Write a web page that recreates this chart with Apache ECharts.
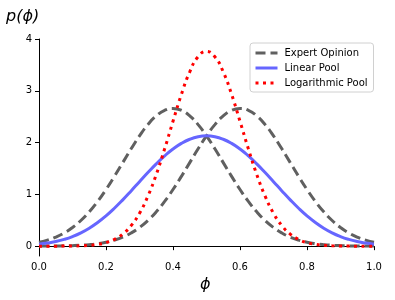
<!DOCTYPE html>
<html><head><meta charset="utf-8">
<script src="https://cdn.jsdelivr.net/npm/echarts@6/dist/echarts.min.js"></script>
<style>html,body{margin:0;padding:0;background:#fff}#c{width:395px;height:300px}</style>
</head><body><div id="c"></div>
<script>
var phi = [0,0.025,0.05,0.075,0.1,0.125,0.15,0.175,0.2,0.225,0.25,0.275,0.3,0.325,0.35,0.375,0.4,0.425,0.45,0.475,0.5,0.525,0.55,0.575,0.6,0.625,0.65,0.675,0.7,0.725,0.75,0.775,0.8,0.825,0.85,0.875,0.9,0.925,0.95,0.975,1.0];
var expertA = [0.0760,0.1169,0.1748,0.2543,0.3600,0.4954,0.6632,0.8634,1.0934,1.3467,1.6131,1.8794,2.1297,2.3471,2.5159,2.6229,2.6596,2.6229,2.5159,2.3471,2.1297,1.8794,1.6131,1.3467,1.0934,0.8634,0.6632,0.4954,0.3600,0.2543,0.1748,0.1169,0.0760,0.0481,0.0295,0.0177,0.0103,0.0058,0.0032,0.0017,0.0009];
var expertB = [0.0009,0.0017,0.0032,0.0058,0.0103,0.0177,0.0295,0.0481,0.0760,0.1169,0.1748,0.2543,0.3600,0.4954,0.6632,0.8634,1.0934,1.3467,1.6131,1.8794,2.1297,2.3471,2.5159,2.6229,2.6596,2.6229,2.5159,2.3471,2.1297,1.8794,1.6131,1.3467,1.0934,0.8634,0.6632,0.4954,0.3600,0.2543,0.1748,0.1169,0.0760];
var linearPool = [0.0385,0.0593,0.0890,0.1301,0.1852,0.2566,0.3464,0.4558,0.5847,0.7318,0.8940,1.0669,1.2449,1.4213,1.5896,1.7432,1.8765,1.9848,2.0645,2.1133,2.1297,2.1133,2.0645,1.9848,1.8765,1.7432,1.5896,1.4213,1.2449,1.0669,0.8940,0.7318,0.5847,0.4558,0.3464,0.2566,0.1852,0.1301,0.0890,0.0593,0.0385];
var logPool = [0.0001,0.0002,0.0005,0.0012,0.0031,0.0073,0.0163,0.0344,0.0689,0.1305,0.2338,0.3964,0.6357,0.9643,1.3836,1.8781,2.4115,2.9291,3.3655,3.6580,3.7610,3.6580,3.3655,2.9291,2.4115,1.8781,1.3836,0.9643,0.6357,0.3964,0.2338,0.1305,0.0689,0.0344,0.0163,0.0073,0.0031,0.0012,0.0005,0.0002,0.0001];
var seriesNames = ['Expert Opinion','Linear Pool','Logarithmic Pool'];
var yTicks = [0,1,2,3,4];
var xTicks = [0,0.2,0.4,0.6,0.8,1.0];

function pairs(ys){ return phi.map(function(x,i){return [x, ys[i]];}); }
var font = 'DejaVu Sans';
var chart = echarts.init(document.getElementById('c'), null, {renderer:'canvas'});
var gray = '#606060', blue = '#6666ff', red = '#ff0000';
chart.setOption({
  animation:false,
  grid:{left:39, right:21, top:39, bottom:44},
  xAxis:{type:'value', min:0, max:1, interval:0.2,
    axisLine:{lineStyle:{color:'#000', width:1}},
    axisTick:{show:true, length:4, lineStyle:{color:'#000'}},
    axisLabel:{color:'#000', fontFamily:font, fontSize:10, margin:6, formatter:function(v){return v.toFixed(1);}},
    splitLine:{show:false}},
  yAxis:{type:'value', min:-0.19, max:4,
    axisLine:{show:true, lineStyle:{color:'#000', width:1}},
    axisTick:{show:true, length:4, lineStyle:{color:'#000'}, customValues:yTicks},
    axisLabel:{color:'#000', fontFamily:font, fontSize:10, margin:7, customValues:yTicks, formatter:function(v){return String(Math.round(v));}},
    splitLine:{show:false}},
  legend:{data:[
      {name:seriesNames[0]},{name:seriesNames[1]},{name:seriesNames[2]}],
    orient:'vertical', left:250, top:43, itemWidth:22, itemHeight:10, itemGap:5,
    padding:[5,6,4,4], borderColor:'#d0d0d0', borderWidth:1, borderRadius:3,
    backgroundColor:'rgba(255,255,255,0.8)',
    itemStyle:{opacity:0},
    lineStyle:{width:3},
    textStyle:{fontFamily:font, fontSize:10, color:'#000', padding:[0,0,0,2]}},
  graphic:[
    {type:'text', left:6, top:9, style:{text:'p(ϕ)', font:'italic 16px "DejaVu Sans"', fill:'#000'}},
    {type:'text', left:200, top:277, style:{text:'ϕ', font:'italic 16px "DejaVu Sans"', fill:'#000'}}
  ],
  series:[
    {name:seriesNames[0], type:'line', data:pairs(expertA), smooth:true, symbol:'none',
      lineStyle:{color:gray, width:3, type:[10,5]}, itemStyle:{color:gray}, z:2},
    {name:seriesNames[0], type:'line', data:pairs(expertB), smooth:true, symbol:'none',
      lineStyle:{color:gray, width:3, type:[10,5]}, itemStyle:{color:gray}, z:2},
    {name:seriesNames[1], type:'line', data:pairs(linearPool), smooth:true, symbol:'none',
      lineStyle:{color:blue, width:3}, itemStyle:{color:blue}, z:3},
    {name:seriesNames[2], type:'line', data:pairs(logPool), smooth:true, symbol:'none',
      lineStyle:{color:red, width:3, type:[3,4.5]}, itemStyle:{color:red}, z:4}
  ]
});
</script></body></html>
